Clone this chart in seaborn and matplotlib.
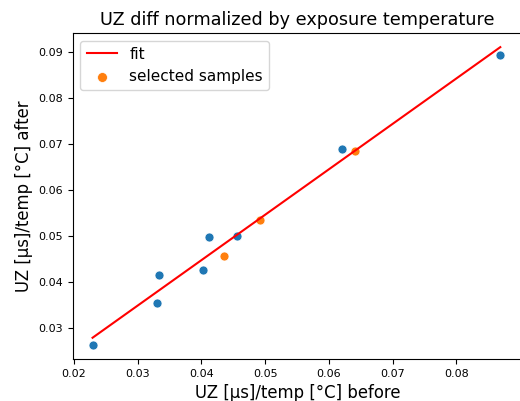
import numpy as np
import pandas as pd
import matplotlib
matplotlib.use("Agg")
import matplotlib.pyplot as plt
import seaborn as sns

# all samples (before / after, normalized by exposure temperature)
uz_before = [0.0230, 0.0330, 0.0333, 0.0403, 0.0412, 0.0455, 0.0620, 0.0869]
uz_after = [0.0262, 0.0353, 0.0414, 0.0426, 0.0498, 0.0499, 0.0688, 0.0892]

# selected samples
sel_before = [0.0436, 0.0492, 0.0641]
sel_after = [0.0456, 0.0533, 0.0685]

# fit line end points
fit_x = [0.0229, 0.0869]
fit_y = [0.0278, 0.0910]

x_ticks = [0.02, 0.03, 0.04, 0.05, 0.06, 0.07, 0.08]
y_ticks = [0.03, 0.04, 0.05, 0.06, 0.07, 0.08, 0.09]

df_all = pd.DataFrame({"before": uz_before, "after": uz_after})
df_sel = pd.DataFrame({"before": sel_before, "after": sel_after})

fig = plt.figure(figsize=(5.2, 4.01), dpi=100)
ax = fig.add_axes([0.140, 0.105, 0.865, 0.813])

ax.plot(fit_x, fit_y, color="red", label="fit")
sns.scatterplot(data=df_all, x="before", y="after", color="C0", s=42, ax=ax)
sns.scatterplot(data=df_sel, x="before", y="after", color="C1", s=42, ax=ax,
                label="selected samples")

ax.set_xlim(0.0198, 0.0904)
ax.set_ylim(0.0232, 0.0941)
ax.set_xticks(x_ticks)
ax.set_yticks(y_ticks)

ax.set_title("UZ diff normalized by exposure temperature", fontsize=12.7)
ax.set_xlabel("UZ [µs]/temp [°C] before", fontsize=11.9)
ax.set_ylabel("UZ [µs]/temp [°C] after", fontsize=11.9)
ax.tick_params(labelsize=8)
ax.legend(loc="upper left", fontsize=11, markerscale=1.1)

fig.savefig("out.png", dpi=100)
